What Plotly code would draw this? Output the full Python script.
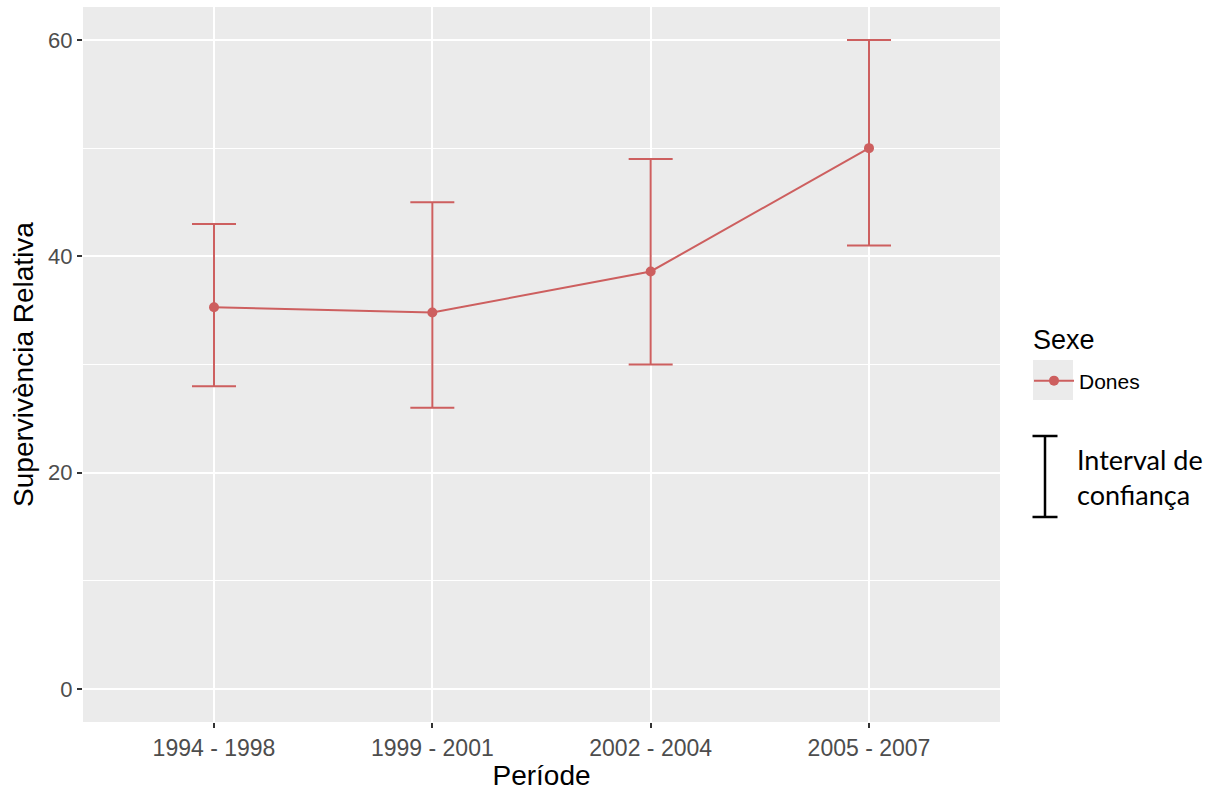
import plotly.graph_objects as go

periods = ["1994 - 1998", "1999 - 2001", "2002 - 2004", "2005 - 2007"]
survival = [35.3, 34.8, 38.6, 50.0]
ci_lower = [28.0, 26.0, 30.0, 41.0]
ci_upper = [43.0, 45.0, 49.0, 60.0]
series_name = "Dones"
legend_title = "Sexe"

color = "#CD5F5F"

err_plus = [u - v for u, v in zip(ci_upper, survival)]
err_minus = [v - l for v, l in zip(survival, ci_lower)]

fig = go.Figure()
fig.add_trace(go.Scatter(
    x=periods, y=survival, mode="lines+markers", name=series_name,
    line=dict(color=color, width=2),
    marker=dict(color=color, size=10),
    error_y=dict(type="data", symmetric=False, array=err_plus, arrayminus=err_minus,
                 color=color, thickness=2, width=22),
))

font_family = "Liberation Sans"

def px_x(p):
    return (p - 83) / 917

def px_y(p):
    return (722 - p) / 715

fig.update_layout(
    width=1216, height=791,
    margin=dict(l=83, r=216, t=7, b=69),
    paper_bgcolor="white", plot_bgcolor="#EBEBEB",
    font=dict(family=font_family, color="#4D4D4D", size=22),
    showlegend=True,
    legend=dict(
        font=dict(size=21, color="black"),
        x=px_x(1029), xanchor="left", y=px_y(381), yanchor="middle",
        bgcolor="rgba(0,0,0,0)",
        itemwidth=40,
    ),
    xaxis=dict(
        range=[-0.6, 3.6], showgrid=True, gridcolor="white", gridwidth=1.8,
        zeroline=False, ticks="outside", ticklen=5, tickcolor="#333333", tickwidth=1.5,
        tickfont=dict(size=23, color="#4D4D4D"),
        title=dict(text="Període", font=dict(size=28, color="black"), standoff=4),
        showline=False,
    ),
    yaxis=dict(
        range=[-3.05, 63.05], tickmode="array", tickvals=[0, 20, 40, 60],
        showgrid=True, gridcolor="white", gridwidth=1.8,
        minor=dict(tickmode="array", tickvals=[10, 30, 50], showgrid=True,
                   gridcolor="white", gridwidth=0.9, ticks=""),
        zeroline=False, ticks="outside", ticklen=5, tickcolor="#333333", tickwidth=1.5,
        tickfont=dict(size=22, color="#4D4D4D"),
        title=dict(text="Supervivència Relativa", font=dict(size=28, color="black"), standoff=6),
        showline=False,
    ),
)

# legend title
fig.add_annotation(xref="paper", yref="paper", x=px_x(1031), y=px_y(340),
                   xanchor="left", yanchor="middle", showarrow=False,
                   text=legend_title, font=dict(family=font_family, size=27, color="black"))

# grey key background for the legend entry
fig.add_shape(type="rect", xref="paper", yref="paper",
              x0=px_x(1033), x1=px_x(1073), y0=px_y(400), y1=px_y(360),
              fillcolor="#EBEBEB", line=dict(width=0), layer="below")

# confidence-interval glyph
cx = px_x(1045)
cw = 12.5 / 917
ytop = px_y(436)
ybot = px_y(517)
for (x0, y0, x1, y1) in [(cx, ybot, cx, ytop), (cx - cw, ytop, cx + cw, ytop), (cx - cw, ybot, cx + cw, ybot)]:
    fig.add_shape(type="line", xref="paper", yref="paper", x0=x0, y0=y0, x1=x1, y1=y1,
                  line=dict(color="black", width=2.5))

fig.add_annotation(xref="paper", yref="paper", x=px_x(1075), y=px_y(477),
                   xanchor="left", yanchor="middle", align="left", showarrow=False,
                   text="Interval de<br>confiança",
                   font=dict(family="Lato", size=27, color="black"))

fig.write_html("out.html", config={"displayModeBar": False},
               post_script="document.body.style.margin='0';")
